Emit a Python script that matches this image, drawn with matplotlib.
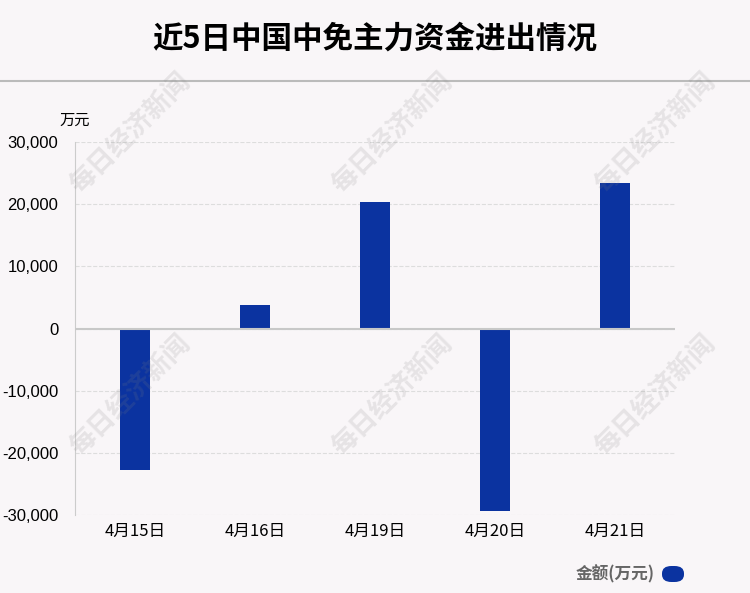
import numpy as np
import matplotlib.pyplot as plt
from matplotlib.patches import FancyBboxPatch

plt.rcParams['font.family'] = ['Liberation Sans', 'Noto Sans CJK SC', 'DejaVu Sans']

dates = ['4月15日', '4月16日', '4月19日', '4月20日', '4月21日']
amount = [-22750, 3800, 20300, -29300, 23400]
yticks = [-30000, -20000, -10000, 0, 10000, 20000, 30000]

bg = '#f9f6f8'
blue = '#0b33a0'

fig = plt.figure(figsize=(7.5, 5.93), dpi=100, facecolor=bg)
ax = fig.add_axes([0.1, 0.1315, 0.8, 0.629])
ax.set_facecolor(bg)

x = np.arange(len(dates))
ax.bar(x, amount, 0.25, color=blue, zorder=3)

ax.set_xlim(-0.5, 4.5)
ax.set_ylim(-30000, 30000)
ax.set_yticks(yticks)
ax.set_yticklabels(['{:,}'.format(v) for v in yticks], fontsize=12)
ax.set_xticks(x)
ax.set_xticklabels(dates, fontsize=12, family=['Noto Sans CJK SC'])
ax.tick_params(length=0, pad=6)
ax.tick_params(axis='y', pad=12)
for s in ['top', 'right', 'bottom']:
    ax.spines[s].set_visible(False)
ax.spines['left'].set_color('#cccccc')
ax.grid(axis='y', color='#dddddd', linestyle='--', linewidth=0.8, zorder=0)
ax.axhline(0, color='#c8c8c8', linewidth=1.5, zorder=4)

fig.text(0.5, 0.935, '近5日中国中免主力资金进出情况', ha='center', va='center',
         fontsize=22, fontweight='bold', family=['Noto Sans CJK SC'])
fig.add_artist(plt.Line2D([0, 1], [1 - 81 / 593, 1 - 81 / 593], color='#bbbbbb', linewidth=1.5))
fig.text(75 / 750, 1 - 120 / 593, '万元', ha='center', va='center', fontsize=11,
         family=['Noto Sans CJK SC'])

# watermarks
for cx in [130, 392, 655]:
    for cy in [133, 395]:
        fig.text(cx / 750, 1 - cy / 593, '每日经济新闻', rotation=45, ha='center', va='center',
                 fontsize=19, fontweight='bold', color='#808080', alpha=0.16,
                 family=['Noto Sans CJK SC'], zorder=10)

# legend
fig.text(655 / 750, 1 - 574 / 593, '金额(万元)', ha='right', va='center', fontsize=12,
         fontweight='bold', color='#666666', family=['Noto Sans CJK SC'])
fig.add_artist(FancyBboxPatch((662 / 750, 1 - 582 / 593), 22 / 750, 16 / 593,
                              boxstyle='round,pad=0,rounding_size=0.0125', transform=fig.transFigure,
                              facecolor=blue, edgecolor='none'))

fig.savefig('out.png', dpi=100, facecolor=bg)
